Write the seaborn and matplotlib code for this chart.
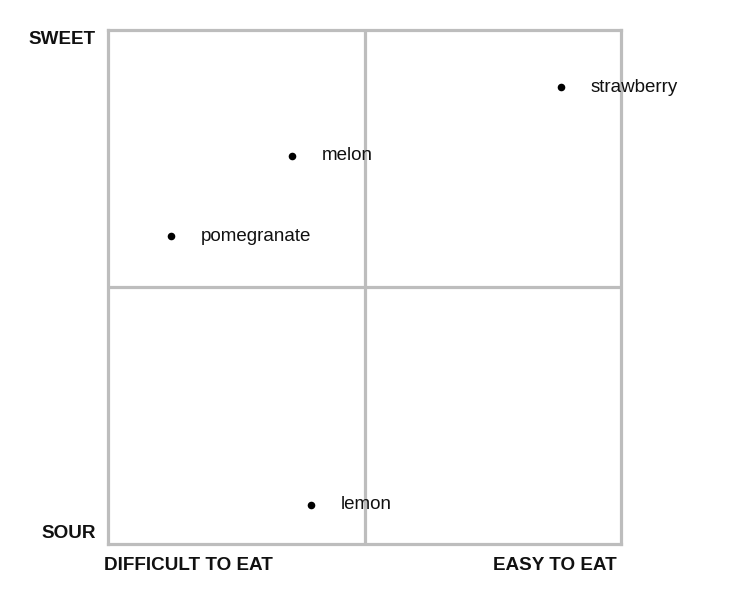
import pandas as pd
import seaborn as sns
import matplotlib.pyplot as plt

# fruit positions: x = ease of eating, y = sweetness (0..10)
fruits = ['strawberry', 'melon', 'pomegranate', 'lemon']
ease = [8.83, 3.59, 1.23, 3.96]
sweetness = [8.89, 7.55, 5.99, 0.76]

df = pd.DataFrame({'fruit': fruits, 'ease': ease, 'sweetness': sweetness})

sns.set_theme(style="white")
plt.rcParams['font.family'] = ['Liberation Sans', 'DejaVu Sans']

W, H = 730, 598
fig = plt.figure(figsize=(W / 100, H / 100), dpi=100)
ax = fig.add_axes([108 / W, 1 - 544 / H, (621 - 108) / W, (544 - 30) / H])

grey = '#bdbdbd'
ax.axvline(5, color=grey, lw=2.3, zorder=1)
ax.axhline(5, color=grey, lw=2.3, zorder=1)

sns.scatterplot(data=df, x='ease', y='sweetness', color='black', s=30,
                edgecolor='black', linewidth=0, ax=ax, zorder=3)

for _, r in df.iterrows():
    ax.annotate(r['fruit'], (r['ease'], r['sweetness']), xytext=(21.5, 0),
                textcoords='offset points', va='center', ha='left',
                fontsize=13.5, color='#111111', zorder=4)

ax.set_xlim(0, 10)
ax.set_ylim(0, 10)
ax.set_xticks([])
ax.set_yticks([])
ax.set_xlabel('')
ax.set_ylabel('')
for sp in ax.spines.values():
    sp.set_color(grey)
    sp.set_linewidth(2.3)

bold = dict(fontsize=13.6, fontweight='bold', color='#111111')
fig.text(96 / W, 1 - 39 / H, 'SWEET', ha='right', va='center', **bold)
fig.text(96 / W, 1 - 534 / H, 'SOUR', ha='right', va='center', **bold)
fig.text(104 / W, 1 - 566 / H, 'DIFFICULT TO EAT', ha='left', va='center', **bold)
fig.text(617 / W, 1 - 566 / H, 'EASY TO EAT', ha='right', va='center', **bold)

fig.savefig('out.png', dpi=100)
